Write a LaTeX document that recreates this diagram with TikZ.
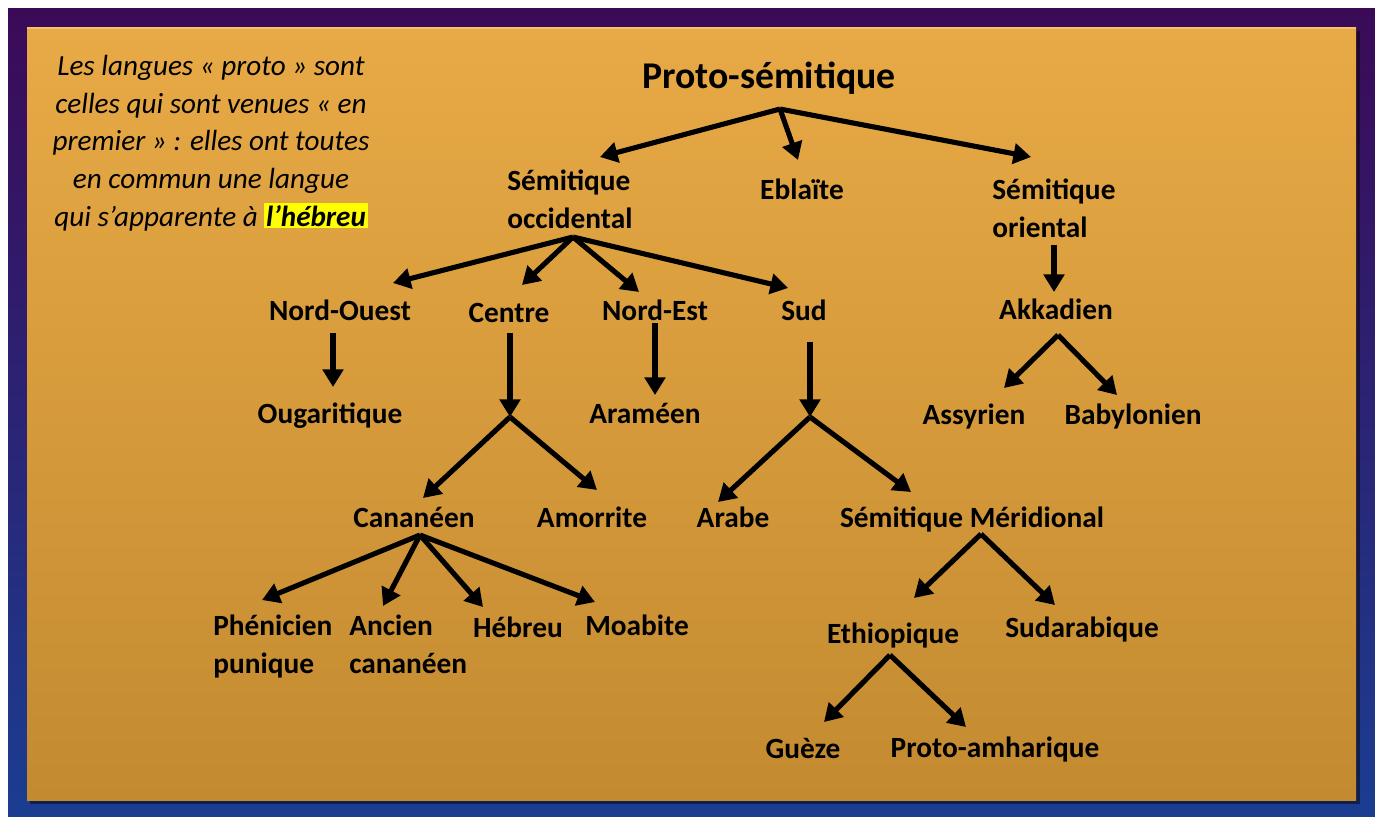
\documentclass[tikz,border=0pt]{standalone}
\usepackage{fontspec}
\setmainfont{Carlito}
\usetikzlibrary{arrows.meta}
\definecolor{bgtop}{HTML}{3B0A57}
\definecolor{bgbot}{HTML}{1B3D91}
\definecolor{orgtop}{HTML}{E8AA46}
\definecolor{orgbot}{HTML}{C38A30}
\definecolor{orgline}{HTML}{F4C264}
\definecolor{hilite}{HTML}{FFFF00}
\setlength{\fboxsep}{1pt}

\begin{document}
\begin{tikzpicture}[x=0.02cm,y=-0.02cm,
    lang/.style={font=\fontsize{16.7}{21.6}\selectfont\bfseries,inner sep=0pt,anchor=base},
    langl/.style={lang,align=left,anchor=base west},
    arr/.style={line width=2.9pt,-{Triangle[length=10pt,width=11.5pt]}}]
  \useasboundingbox (0,0) rectangle (1375,816);
  % background
  \fill[white] (0,0) rectangle (1375,816);
  \shade[top color=bgtop,bottom color=bgbot] (8,8) rectangle (1375,816);
  \fill[black,opacity=.45] (30,31) rectangle (1360,804);
  \shade[top color=orgtop,bottom color=orgbot] (27,27) rectangle (1356,800);
  \draw[orgline,line width=1pt] (27,27.8) -- (1356,27.8);

  % last line baseline for multi-line nodes
  \node[font=\fontsize{16.6}{21.4}\selectfont\itshape,align=center,inner sep=0pt,anchor=base] (note) at (211,226)
    {Les langues « proto » sont\\celles qui sont venues « en\\premier » : elles ont toutes\\en commun une langue\\qui s’apparente à \colorbox{hilite}{\bfseries l’hébreu}};

  \node[lang,font=\fontsize{21.5}{26}\selectfont\bfseries] (ps) at (769,88) {Proto-sémitique};
  \node[langl] (occ) at (507,228) {Sémitique\\occidental};
  \node[lang] (ebl) at (802,199) {Eblaïte};
  \node[langl] (ori) at (992,237) {Sémitique\\oriental};
  \node[lang] (nw) at (340,320) {Nord-Ouest};
  \node[lang] (cen) at (509,322) {Centre};
  \node[lang] (ne) at (655,320) {Nord-Est};
  \node[lang] (sud) at (804,320) {Sud};
  \node[lang] (akk) at (1056,319) {Akkadien};
  \node[lang] (oug) at (330,423) {Ougaritique};
  \node[lang] (ara) at (645,423) {Araméen};
  \node[lang] (assy) at (974,424) {Assyrien};
  \node[lang] (baby) at (1133,424) {Babylonien};
  \node[lang] (can) at (414,527) {Cananéen};
  \node[lang] (amo) at (592,527) {Amorrite};
  \node[lang] (arb) at (733,527) {Arabe};
  \node[lang] (smer) at (972,527) {Sémitique Méridional};
  \node[langl] (phe) at (213,673) {Phénicien\\punique};
  \node[langl] (anc) at (349,673) {Ancien\\cananéen};
  \node[lang] (heb) at (518,637) {Hébreu};
  \node[lang] (moa) at (637,635) {Moabite};
  \node[lang] (eth) at (893,643) {Ethiopique};
  \node[lang] (sudar) at (1082,637) {Sudarabique};
  \node[lang] (gue) at (803,758) {Guèze};
  \node[lang] (pam) at (995,757) {Proto-amharique};

  % branch points and arrow ends
  \coordinate (ps-b) at (780,109);
  \coordinate (occ-t) at (600,157);
  \coordinate (ebl-t) at (798,160);
  \coordinate (ori-t) at (1031,157);
  \coordinate (occ-b) at (573,237);
  \coordinate (nw-t) at (393,283);
  \coordinate (cen-t) at (522,285);
  \coordinate (ne-t) at (639,292);
  \coordinate (sud-t) at (788,288);
  \coordinate (ori-b) at (1054,245);
  \coordinate (akk-t) at (1054,292);
  \coordinate (nw-b) at (333,333);
  \coordinate (oug-t) at (333,387);
  \coordinate (cen-b) at (510,333);
  \coordinate (cen-j) at (510,417);
  \coordinate (can-t) at (423,498);
  \coordinate (amo-t) at (597,490);
  \coordinate (ne-b) at (655,323);
  \coordinate (ara-t) at (655,395);
  \coordinate (sud-b) at (810,342);
  \coordinate (sud-j) at (810,417);
  \coordinate (arb-t) at (718,502);
  \coordinate (smer-t) at (911,492);
  \coordinate (akk-b) at (1058,335);
  \coordinate (assy-t) at (1004,388);
  \coordinate (baby-t) at (1117,395);
  \coordinate (can-b) at (420,535);
  \coordinate (phe-t) at (262,600);
  \coordinate (anc-t) at (383,606);
  \coordinate (heb-t) at (483,607);
  \coordinate (moa-t) at (595,602);
  \coordinate (smer-b) at (981,534);
  \coordinate (eth-t) at (914,598);
  \coordinate (sudar-t) at (1055,605);
  \coordinate (eth-b) at (890,655);
  \coordinate (gue-t) at (824,722);
  \coordinate (pam-t) at (966,727);

  \draw[arr] (ps-b) -- (occ-t);
  \draw[arr] (ps-b) -- (ebl-t);
  \draw[arr] (ps-b) -- (ori-t);
  \draw[arr] (occ-b) -- (nw-t);
  \draw[arr] (occ-b) -- (cen-t);
  \draw[arr] (occ-b) -- (ne-t);
  \draw[arr] (occ-b) -- (sud-t);
  \draw[arr] (ori-b) -- (akk-t);
  \draw[arr] (nw-b) -- (oug-t);
  \draw[arr] (cen-b) -- (cen-j);
  \draw[arr] (cen-j) -- (can-t);
  \draw[arr] (cen-j) -- (amo-t);
  \draw[arr] (ne-b) -- (ara-t);
  \draw[arr] (sud-b) -- (sud-j);
  \draw[arr] (sud-j) -- (arb-t);
  \draw[arr] (sud-j) -- (smer-t);
  \draw[arr] (akk-b) -- (assy-t);
  \draw[arr] (akk-b) -- (baby-t);
  \draw[arr] (can-b) -- (phe-t);
  \draw[arr] (can-b) -- (anc-t);
  \draw[arr] (can-b) -- (heb-t);
  \draw[arr] (can-b) -- (moa-t);
  \draw[arr] (smer-b) -- (eth-t);
  \draw[arr] (smer-b) -- (sudar-t);
  \draw[arr] (eth-b) -- (gue-t);
  \draw[arr] (eth-b) -- (pam-t);
\end{tikzpicture}
\end{document}
